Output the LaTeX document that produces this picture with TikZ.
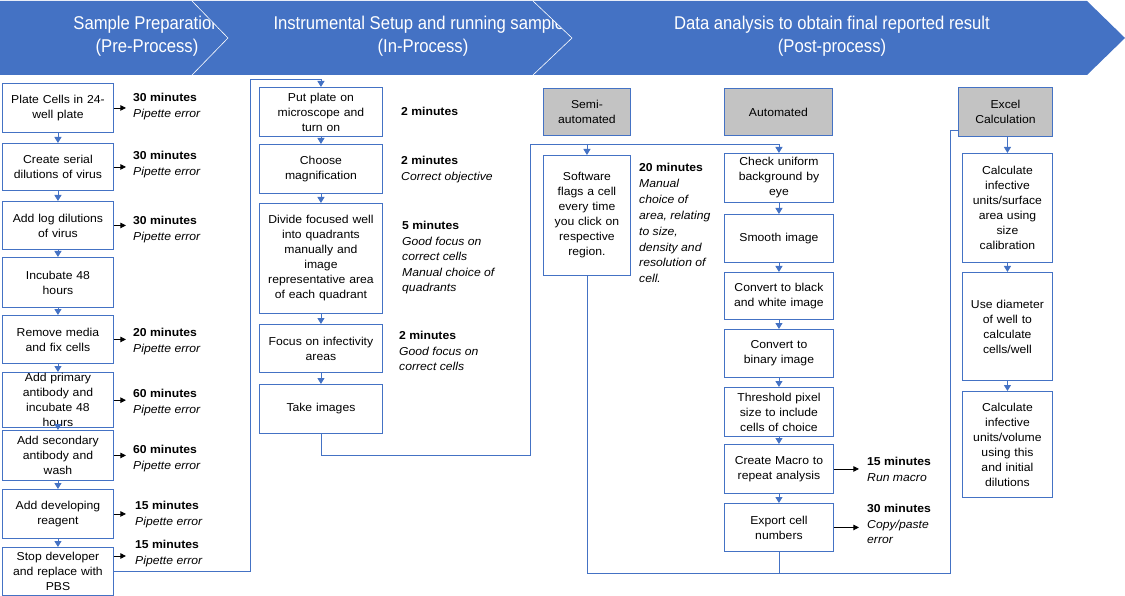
\documentclass[tikz,border=0pt]{standalone}
\usepackage{fontspec}
\setmainfont{Liberation Sans}
\newfontfamily\bannerfont[FakeStretch=0.9]{Liberation Sans}
\newfontfamily\labelfont[FakeStretch=1.06]{Liberation Sans}
\usetikzlibrary{arrows.meta}

\definecolor{bandblue}{HTML}{4472C4}
\definecolor{lineblue}{HTML}{4472C4}
\definecolor{boxgrey}{HTML}{C3C3C3}

\tikzset{
  stepbox/.style={draw=lineblue, line width=0.9pt, fill=white, align=center,
    inner sep=1pt, anchor=north west,
    font=\labelfont\fontsize{11.5}{15}\selectfont},
  headbox/.style={stepbox, fill=boxgrey},
  link/.style={draw=lineblue, line width=0.9pt},
  flow/.style={link, -{Triangle[width=7pt,length=6pt]}},
  note/.style={draw=black, line width=0.8pt, -{Triangle[width=5.5pt,length=5.5pt]}},
  cost/.style={anchor=north west, align=left, inner sep=0pt,
    font=\labelfont\fontsize{11.5}{15.6}\selectfont},
  banner/.style={text=white, align=center, inner sep=0pt,
    font=\bannerfont\fontsize{18.5}{23}\selectfont},
}

\begin{document}
\begin{tikzpicture}[x=1pt,y=-1pt]
\useasboundingbox (0,0) rectangle (1125,596);

% ---------- phase banner ----------
\fill[bandblue] (0,1) -- (1087,1) -- (1125,38) -- (1087,75) -- (0,75) -- cycle;
\begin{scope}
  \clip (0,1) -- (192,1) -- (228,38) -- (192,75) -- (0,75) -- cycle;
  \node[banner] (phase1) at (147,36.5) {Sample Preparation\\(Pre-Process)};
\end{scope}
\begin{scope}
  \clip (192,1) -- (533,1) -- (572,38) -- (533,75) -- (192,75) -- (228,38) -- cycle;
  \node[banner] (phase2) at (423,36.5) {Instrumental Setup and running samples\\(In-Process)};
\end{scope}
\node[banner] (phase3) at (832,36.5) {Data analysis to obtain final reported result\\(Post-process)};
\draw[white, line width=0.6pt] (192,1) -- (228,38) -- (192,75);
\draw[white, line width=0.6pt] (533,1) -- (572,38) -- (533,75);

% ---------- sample preparation ----------
\node[stepbox, minimum width=111pt, minimum height=49pt, text width=106pt] (l1) at (2,83) {Plate Cells in 24-\\well plate};
\node[stepbox, minimum width=111pt, minimum height=47pt, text width=106pt] (l2) at (2,143) {Create serial\\dilutions of virus};
\node[stepbox, minimum width=111pt, minimum height=48pt, text width=106pt] (l3) at (2,201) {Add log dilutions\\of virus};
\node[stepbox, minimum width=111pt, minimum height=50pt, text width=106pt] (l4) at (2,257) {Incubate 48\\hours};
\node[stepbox, minimum width=111pt, minimum height=48pt, text width=106pt] (l5) at (2,315) {Remove media\\and fix cells};
\node[stepbox, minimum width=111pt, minimum height=49pt, text width=106pt] (l6) at (2,372) {Add primary\\antibody and\\incubate 48\\hours};
\node[stepbox, minimum width=111pt, minimum height=50pt, text width=106pt] (l7) at (2,430) {Add secondary\\antibody and\\wash};
\node[stepbox, minimum width=111pt, minimum height=49pt, text width=106pt] (l8) at (2,489) {Add developing\\reagent};
\node[stepbox, minimum width=111pt, minimum height=48pt, text width=106pt] (l9) at (2,547) {Stop developer\\and replace with\\PBS};

\foreach \a/\b in {l1/l2,l2/l3,l3/l4,l4/l5,l5/l6,l6/l7,l7/l8,l8/l9}
  \draw[flow] (\a) -- (\b);

\node[cost] (c1) at (133,93)  {\textbf{30 minutes}\\\textit{Pipette error}};
\node[cost] (c2) at (133,151) {\textbf{30 minutes}\\\textit{Pipette error}};
\node[cost] (c3) at (133,216) {\textbf{30 minutes}\\\textit{Pipette error}};
\node[cost] (c5) at (133,328) {\textbf{20 minutes}\\\textit{Pipette error}};
\node[cost] (c6) at (133,389) {\textbf{60 minutes}\\\textit{Pipette error}};
\node[cost] (c7) at (133,445) {\textbf{60 minutes}\\\textit{Pipette error}};
\node[cost] (c8) at (135,501) {\textbf{15 minutes}\\\textit{Pipette error}};
\node[cost] (c9) at (135,540) {\textbf{15 minutes}\\\textit{Pipette error}};

\foreach \b in {l1,l2,l3,l5,l6,l7,l8}
  \draw[note] (\b.east) -- ++(12,0);
\draw[note] ([yshift=-9pt]l9.north east) -- ++(12,0);

% ---------- instrumental setup ----------
\node[stepbox, minimum width=123pt, minimum height=49pt, text width=118pt] (m1) at (259,87) {Put plate on\\microscope and\\turn on};
\node[stepbox, minimum width=123pt, minimum height=49pt, text width=118pt] (m2) at (259,144) {Choose\\magnification};
\node[stepbox, minimum width=123pt, minimum height=110pt, text width=118pt] (m3) at (259,203) {Divide focused well\\into quadrants\\manually and\\image\\representative area\\of each quadrant};
\node[stepbox, minimum width=123pt, minimum height=48pt, text width=118pt] (m4) at (259,324) {Focus on infectivity\\areas};
\node[stepbox, minimum width=123pt, minimum height=49pt, text width=118pt] (m5) at (259,384) {Take images};

\foreach \a/\b in {m1/m2,m2/m3,m3/m4,m4/m5}
  \draw[flow] (\a) -- (\b);

\node[cost] (n1) at (401,107) {\textbf{2 minutes}};
\node[cost] (n2) at (401,156) {\textbf{2 minutes}\\\textit{Correct objective}};
\node[cost] (n3) at (402,221) {\textbf{5 minutes}\\\textit{Good focus on}\\\textit{correct cells}\\\textit{Manual choice of}\\\textit{quadrants}};
\node[cost] (n4) at (399,331) {\textbf{2 minutes}\\\textit{Good focus on}\\\textit{correct cells}};

% preparation feeds the microscope stage
\draw[flow] (l9.east) -| (250,79) -| (m1.north);

% ---------- data analysis ----------
\node[headbox, minimum width=87pt, minimum height=47pt, text width=82pt] (semi) at (543,88) {Semi-\\automated};
\node[headbox, minimum width=108pt, minimum height=47pt, text width=103pt] (auto) at (724,88) {Automated};
\node[headbox, minimum width=94pt, minimum height=49pt, text width=89pt] (excel) at (958,87) {Excel\\Calculation};

\node[stepbox, minimum width=87pt, minimum height=120pt, text width=82pt] (s1) at (543,155) {Software\\flags a cell\\every time\\you click on\\respective\\region.};

\node[stepbox, minimum width=109pt, minimum height=49pt, text width=104pt] (a1) at (724,153) {Check uniform\\background by\\eye};
\node[stepbox, minimum width=109pt, minimum height=48pt, text width=104pt] (a2) at (724,214) {Smooth image};
\node[stepbox, minimum width=109pt, minimum height=47pt, text width=104pt] (a3) at (724,272) {Convert to black\\and white image};
\node[stepbox, minimum width=109pt, minimum height=48pt, text width=104pt] (a4) at (724,329) {Convert to\\binary image};
\node[stepbox, minimum width=109pt, minimum height=49pt, text width=104pt] (a5) at (724,387) {Threshold pixel\\size to include\\cells of choice};
\node[stepbox, minimum width=109pt, minimum height=49pt, text width=104pt] (a6) at (724,444) {Create Macro to\\repeat analysis};
\node[stepbox, minimum width=109pt, minimum height=48pt, text width=104pt] (a7) at (724,503) {Export cell\\numbers};

\foreach \a/\b in {a1/a2,a2/a3,a3/a4,a4/a5,a5/a6,a6/a7}
  \draw[flow] (\a) -- (\b);

\node[stepbox, minimum width=90pt, minimum height=109pt, text width=85pt] (e1) at (962,153) {Calculate\\infective\\units/surface\\area using\\size\\calibration};
\node[stepbox, minimum width=90pt, minimum height=108pt, text width=85pt] (e2) at (962,272) {Use diameter\\of well to\\calculate\\cells/well};
\node[stepbox, minimum width=90pt, minimum height=106pt, text width=85pt] (e3) at (962,391) {Calculate\\infective\\units/volume\\using this\\and initial\\dilutions};

\draw[flow] (excel.south -| e1.north) -- (e1.north);
\draw[flow] (e1) -- (e2);
\draw[flow] (e2) -- (e3);

\node[cost, font=\labelfont\fontsize{11.5}{15.9}\selectfont] (t1) at (639,163) {\textbf{20 minutes}\\\textit{Manual}\\\textit{choice of}\\\textit{area, relating}\\\textit{to size,}\\\textit{density and}\\\textit{resolution of}\\\textit{cell.}};
\node[cost] (t6) at (867,457) {\textbf{15 minutes}\\\textit{Run macro}};
\node[cost] (t7) at (867,504) {\textbf{30 minutes}\\\textit{Copy/paste}\\\textit{error}};

\draw[note] (a6.east) -- ++(25,0);
\draw[note] (a7.east) -- ++(25,0);

% images go to both analysis routes
\draw[link] (m5.south) |- (530,455) -- (530,144) -- (587,144);
\draw[flow] (530,144) -| (a1.north);
\draw[flow] (s1.north |- 0,144) -- (s1.north);

% both routes feed the spreadsheet
\draw[link] (s1.south) -- (s1.south |- 0,573) -- (950,573) -- (950,130) -- (excel.west |- 0,130);
\draw[link] (a7.south) -- (a7.south |- 0,573);

\end{tikzpicture}
\end{document}
